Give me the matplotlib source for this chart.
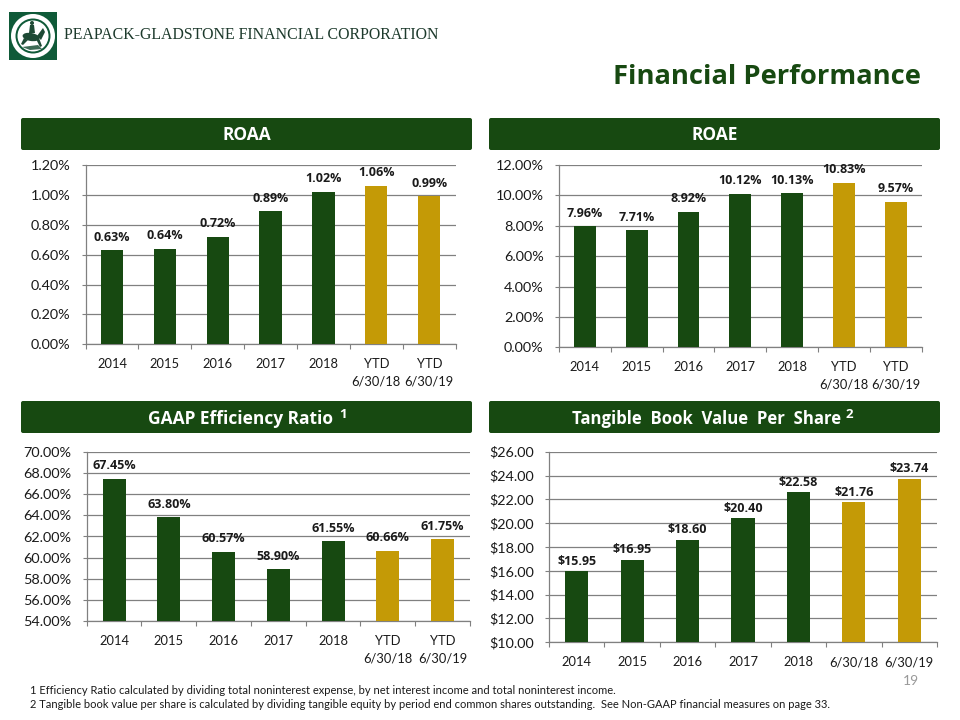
# Peapack-Gladstone financial performance slide
import matplotlib
matplotlib.use('Agg')
import matplotlib.pyplot as plt
from matplotlib.patches import Rectangle, FancyBboxPatch, Circle, Ellipse, Polygon
from matplotlib.ticker import FuncFormatter

plt.rcParams['font.family'] = ['Lato', 'DejaVu Sans']

GREEN = '#174911'
GOLD = '#C49A06'
LOGO = '#0F5A38'
TEXT = '#1a1a1a'
GRID = '#808080'
W, H = 960, 720

# data
years = ['2014', '2015', '2016', '2017', '2018', 'YTD\n6/30/18', 'YTD\n6/30/19']
tbv_labels = ['2014', '2015', '2016', '2017', '2018', '6/30/18', '6/30/19']
bar_colors = [GREEN] * 5 + [GOLD] * 2

roaa = [0.63, 0.64, 0.72, 0.89, 1.02, 1.06, 0.99]
roae = [7.96, 7.71, 8.92, 10.12, 10.13, 10.83, 9.57]
efficiency = [67.45, 63.80, 60.57, 58.90, 61.55, 60.66, 61.75]
tbv = [15.95, 16.95, 18.60, 20.40, 22.58, 21.76, 23.74]

footnote1 = '1 Efficiency Ratio calculated by dividing total noninterest expense, by net interest income and total noninterest income.'
footnote2 = ('2 Tangible book value per share is calculated by dividing tangible equity by period end common '
             'shares outstanding.  See Non-GAAP financial measures on page 33.')

fig = plt.figure(figsize=(W / 100, H / 100), dpi=100)
bg = fig.add_axes([0, 0, 1, 1])
bg.set_xlim(0, W)
bg.set_ylim(H, 0)
bg.axis('off')

BOLD = ['Open Sans', 'DejaVu Sans']


def header(x0, x1, y0, y1, txt, cx, size=12.5):
    bg.add_patch(FancyBboxPatch((x0 + 1, y0 + 1), x1 - x0 - 2, y1 - y0 - 2,
                                boxstyle='round,pad=1,rounding_size=2',
                                fc=GREEN, ec='none'))
    bg.text(cx, (y0 + y1) / 2 + 1.5, txt, color='white', fontsize=size,
            fontweight='bold', ha='center', va='center', family=BOLD)


def chart(left, right, top, bottom, values, labels, ymin, ymax, step, fmt, gap=13):
    ax = fig.add_axes([left / W, 1 - bottom / H, (right - left) / W, (bottom - top) / H])
    xs = range(len(values))
    ax.bar(xs, values, width=0.42, color=bar_colors, zorder=3)
    ax.set_xlim(-0.5, len(values) - 0.5)
    ax.set_ylim(ymin, ymax)
    n = int(round((ymax - ymin) / step))
    ax.set_yticks([ymin + i * step for i in range(n + 1)])
    ax.yaxis.set_major_formatter(FuncFormatter(lambda v, p: fmt.format(v)))
    ax.set_xticks([i - 0.5 for i in range(len(values) + 1)], minor=False)
    ax.set_xticklabels([])
    ax.set_xticks(list(xs), minor=True)
    ax.set_xticklabels(labels, minor=True, fontsize=9.3, color=TEXT, linespacing=1.5)
    ax.tick_params(axis='x', which='minor', length=0, pad=10)
    ax.tick_params(axis='x', which='major', length=3.5, color=GRID, width=0.8)
    ax.tick_params(axis='y', length=3, color=GRID, width=0.8, labelsize=10.4, labelcolor=TEXT, pad=8)
    ax.grid(axis='y', color=GRID, lw=0.9, zorder=0)
    for s in ['top', 'right']:
        ax.spines[s].set_visible(False)
    for s in ['left', 'bottom']:
        ax.spines[s].set_color(GRID)
        ax.spines[s].set_linewidth(0.9)
    for i, v in enumerate(values):
        ax.annotate(fmt.format(v), (i, v), xytext=(0, gap), textcoords='offset pixels',
                    ha='center', va='center', fontsize=9, fontweight='bold', color=TEXT,
                    zorder=5, family=BOLD)
    return ax


# logo and company name
bg.add_patch(Rectangle((9, 12), 48, 48, fc=LOGO, ec='none'))
bg.add_patch(Circle((33, 36), 22, fc='white', ec='none'))
bg.add_patch(Circle((33, 36), 17.5, fc=LOGO, ec='none'))
bg.add_patch(Circle((33, 36), 15.5, fc='white', ec='none'))
bg.add_patch(Ellipse((31, 37), 17, 8, angle=10, fc='#1e4a35', ec='none'))
bg.add_patch(Polygon([[37, 36], [43, 28], [45, 32], [41, 40]], fc='#1e4a35', ec='none'))
bg.add_patch(Polygon([[29, 33], [30, 25], [34, 25], [35, 33]], fc='#1e4a35', ec='none'))
bg.add_patch(Circle((32, 23), 2, fc='#1e4a35', ec='none'))
bg.add_patch(Polygon([[24, 38], [21, 44], [23, 45], [28, 40]], fc='#1e4a35', ec='none'))
bg.add_patch(Polygon([[36, 39], [40, 47], [42, 46], [39, 38]], fc='#1e4a35', ec='none'))
bg.add_patch(Polygon([[22, 47], [38, 45], [42, 49], [30, 50]], fc='#3d6b55', ec='none'))
bg.text(64, 35, 'PEAPACK-GLADSTONE FINANCIAL CORPORATION', family='Liberation Serif',
        fontsize=11.46, color='#1d3a2c', va='center', ha='left')

bg.text(921, 77, 'Financial Performance', color=GREEN, fontsize=19.7, fontweight='bold',
        ha='right', va='center', family=BOLD)

header(21, 472, 118, 150, 'ROAA', 246.5)
header(489, 940, 118, 150, 'ROAE', 714.5)
header(21, 472, 401, 433, 'GAAP Efficiency Ratio', 240)
header(489, 940, 401, 433, 'Tangible  Book  Value  Per  Share', 707, size=12.1)
bg.text(343, 414, '1', color='white', fontsize=9.5, fontweight='bold', ha='center', va='center', family=BOLD)
bg.text(849, 414, '2', color='white', fontsize=9.5, fontweight='bold', ha='center', va='center', family=BOLD)

chart(85.5, 455.7, 165, 344.3, roaa, years, 0, 1.2, 0.2, '{:.2f}%')
chart(559, 921.7, 165, 347.3, roae, years, 0, 12, 2, '{:.2f}%')
chart(86.7, 470, 451.7, 621.3, efficiency, years, 54, 70, 2, '{:.2f}%')
chart(549, 937, 451.7, 642.3, tbv, tbv_labels, 10, 26, 2, '${:.2f}', gap=10)

bg.text(30, 690, footnote1, fontsize=8, color=TEXT, va='center', ha='left')
bg.text(30, 704, footnote2, fontsize=8, color=TEXT, va='center', ha='left')
bg.text(918.5, 681, '19', fontsize=10, color='#999999', ha='right', va='center')

fig.savefig('out.png', dpi=100)
